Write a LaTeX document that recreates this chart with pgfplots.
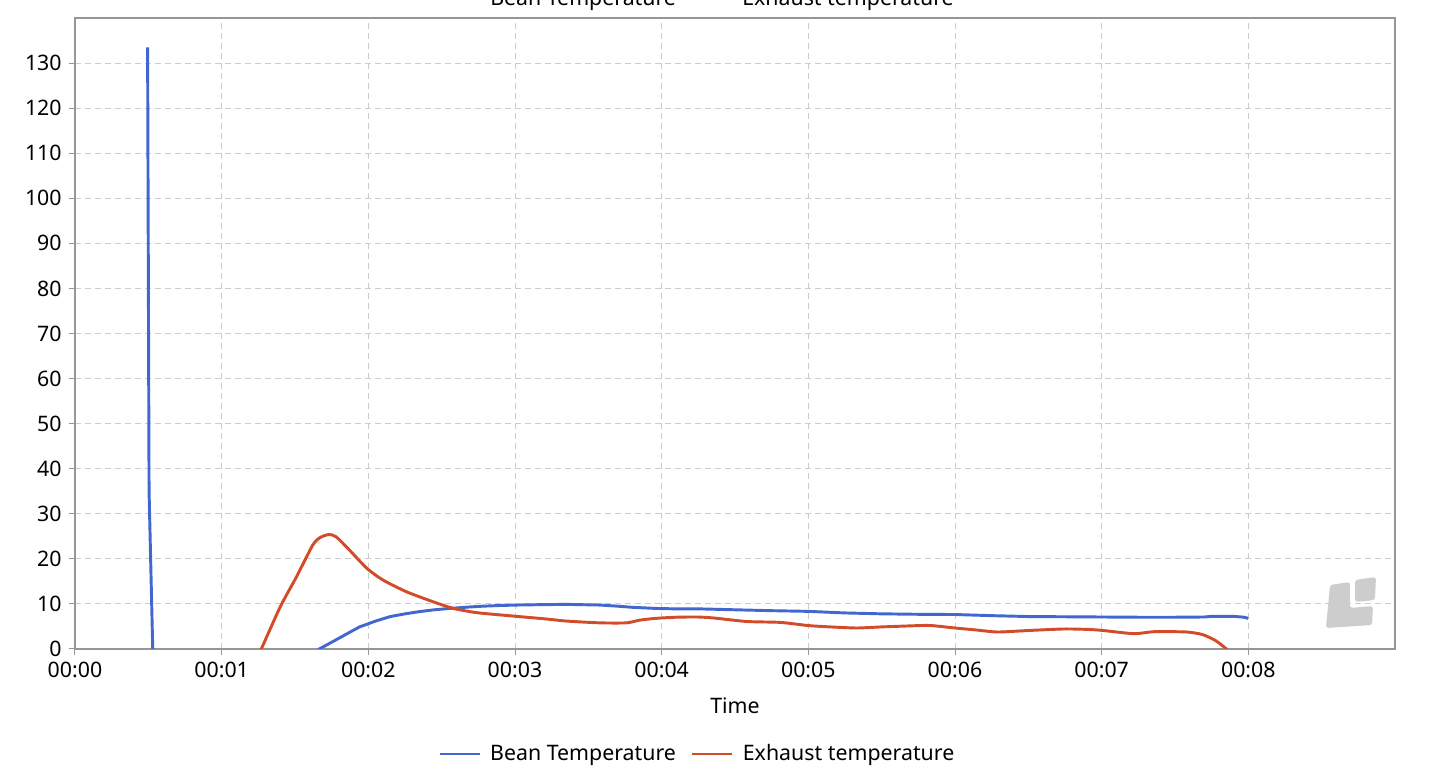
\documentclass[border=0pt]{standalone}
\usepackage{fontspec}
\setmainfont{Noto Sans}
\usepackage{pgfplots}
\usepackage{pgfplotstable}
\pgfplotsset{compat=1.18}
\definecolor{bean}{RGB}{66,104,208}
\definecolor{exh}{RGB}{210,76,42}
\definecolor{gridc}{RGB}{204,204,204}
\definecolor{axc}{RGB}{150,150,150}
\definecolor{logoc}{RGB}{205,205,205}

\pgfplotstableread{
t v
0.495 133.5
0.505 35
0.53 0
0.535 -5
0.54 nan
1.64 -2
1.665 0
1.75 1.5
1.85 3.3
1.94 4.9
2.05 6.2
2.15 7.2
2.25 7.8
2.35 8.3
2.45 8.7
2.555 9.0
2.68 9.3
2.78 9.5
2.9 9.65
3.01 9.75
3.2 9.85
3.35 9.9
3.58 9.75
3.7 9.5
3.80 9.25
3.96 9.0
4.1 8.9
4.26 8.9
4.5 8.7
4.75 8.5
5.0 8.35
5.25 8.0
5.5 7.8
5.75 7.7
6.0 7.65
6.25 7.4
6.5 7.2
6.75 7.15
7.0 7.1
7.25 7.05
7.5 7.05
7.7 7.1
7.75 7.25
7.9 7.25
7.97 7.05
8.0 6.8
}\beantab

\pgfplotstableread{
t v
1.25 -1
1.27 0
1.40 9.4
1.51 16.0
1.62 23.0
1.67 24.7
1.73 25.4
1.78 24.9
1.87 22.0
1.99 17.9
2.10 15.3
2.26 12.7
2.44 10.5
2.58 9.0
2.74 8.06
2.99 7.3
3.2 6.7
3.35 6.2
3.58 5.8
3.76 5.8
3.85 6.4
3.96 6.8
4.1 7.05
4.24 7.1
4.35 6.9
4.58 6.1
4.81 5.9
5.0 5.2
5.15 4.9
5.33 4.66
5.5 4.9
5.76 5.2
5.84 5.2
6.0 4.66
6.15 4.2
6.29 3.77
6.5 4.1
6.74 4.44
6.9 4.35
7.0 4.14
7.22 3.4
7.36 3.85
7.58 3.77
7.69 3.18
7.78 1.8
7.85 0
7.87 -1
}\exhtab

\begin{document}
\fontsize{16}{19}\selectfont
\begin{tikzpicture}
\begin{axis}[
  name=ax,
  scale only axis,
  width=990pt, height=473.25pt,
  xmin=0, xmax=9, ymin=0, ymax=140,
  xtick={0,1,...,8},
  xticklabels={00:00,00:01,00:02,00:03,00:04,00:05,00:06,00:07,00:08},
  ytick={0,10,...,130},
  grid=major,
  grid style={gridc, dash pattern=on 4.5pt off 3pt, line width=0.75pt},
  axis line style={axc, line width=1pt},
  tick style={axc, line width=0.75pt},
  tick align=outside,
  major tick length=4.5pt,
  tick pos=left,
  /pgf/number format/assume math mode=true,
  ticklabel style={font=\fontsize{16}{19}\selectfont},
  xlabel={Time},
  xlabel style={at={(axis description cs:0.5,0)}, anchor=center, yshift=-42.5pt, font=\fontsize{16}{19}\selectfont},
  unbounded coords=jump,
  legend columns=2,
  legend style={draw=none, fill=none, at={(axis description cs:0.2750,-0.1664)}, anchor=west,
    inner sep=0pt, font=\fontsize{16}{19}\selectfont,
    nodes={inner sep=0pt},
    /tikz/every odd column/.append style={column sep=6.75pt},
    /tikz/every even column/.append style={column sep=11.25pt}},
  legend image code/.code={\draw[#1] (0pt,0pt) -- (30pt,0pt);},
]
\addplot[bean, line width=2.2pt, line join=round] table[x=t, y=v] {\beantab};
\addlegendentry{Bean Temperature}
\addplot[exh, line width=2.2pt, line join=round, smooth, tension=0.4] table[x=t, y=v] {\exhtab};
\addlegendentry{Exhaust temperature}
\fill[logoc, rounded corners=2pt] (axis description cs:0.9508,0.1014) -- (axis description cs:0.9659,0.1062) -- (axis description cs:0.9659,0.0650) -- (axis description cs:0.9833,0.0681) -- (axis description cs:0.9826,0.0380) -- (axis description cs:0.9477,0.0333) -- cycle;
\fill[logoc, rounded corners=2pt] (axis description cs:0.9697,0.1094) -- (axis description cs:0.9856,0.1141) -- (axis description cs:0.9848,0.0777) -- (axis description cs:0.9697,0.0745) -- cycle;
\end{axis}
\node[anchor=base west, inner sep=0pt] at ([xshift=311.25pt, yshift=9.4pt]ax.north west) {Bean Temperature};
\node[anchor=base west, inner sep=0pt] at ([xshift=500.25pt, yshift=9.4pt]ax.north west) {Exhaust temperature};
\pgfresetboundingbox
\useasboundingbox ([xshift=-56.25pt, yshift=-93.75pt]ax.south west) rectangle ([xshift=1022.25pt, yshift=486.75pt]ax.south west);
\end{tikzpicture}
\end{document}
